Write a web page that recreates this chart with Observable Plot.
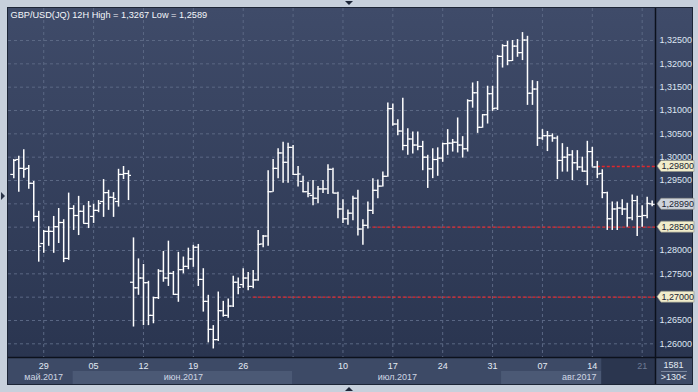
<!DOCTYPE html>
<html><head><meta charset="utf-8">
<script src="https://cdn.jsdelivr.net/npm/d3@7"></script>
<script src="https://cdn.jsdelivr.net/npm/@observablehq/plot@0.6"></script>
<style>
html,body{margin:0;padding:0;background:#c7d0dc;overflow:hidden;}
#chart{width:698px;height:392px;}
</style></head><body><div id="chart"></div>
<script>
const title = "GBP/USD(JQ) 12H High = 1,3267 Low = 1,2589";
const O = [1.2963,1.2995,1.2976,1.2976,1.2944,1.2873,1.2815,1.2841,1.2841,1.2851,1.2860,1.2783,1.2890,1.2875,1.2884,1.2858,1.2873,1.2886,1.2905,1.2924,1.2914,1.2905,1.2963,1.2965,
1.2732,1.2720,1.2741,1.2731,1.2661,1.2699,1.2756,1.2741,1.2751,1.2706,1.2759,1.2766,1.2782,1.2807,1.2738,1.2691,1.2631,1.2609,1.2671,1.2661,1.2681,1.2732,1.2727,1.2741,1.2723,1.2737,
1.2814,1.2831,1.2926,1.2976,1.3009,1.2989,1.3021,1.2963,1.2948,1.2926,1.2918,1.2912,1.2932,1.2932,1.2974,1.2923,1.2889,1.2868,1.2880,1.2912,1.2846,1.2854,1.2886,1.2929,1.2938,
1.2959,1.3104,1.3071,1.3056,1.3025,1.3039,1.3026,1.3023,1.3000,1.2975,1.2995,1.2998,1.3029,1.3030,1.3032,1.3026,1.3018,1.3121,1.3138,1.3064,1.3091,1.3136,
1.3105,1.3216,1.3239,1.3207,1.3238,1.3224,1.3251,1.3137,1.3146,1.3041,1.3046,1.3046,1.3041,1.2993,1.3000,1.3005,1.2988,1.2979,1.2970,1.3012,1.2979,
1.2965,1.2924,1.2868,1.2889,1.2891,1.2889,1.2870,1.2907,1.2873,1.2875,1.2900];
const H = [1.2995,1.3002,1.3016,1.2982,1.2948,1.2884,1.2843,1.2851,1.2873,1.2890,1.2866,1.2923,1.2896,1.2916,1.2896,1.2905,1.2899,1.2907,1.2952,1.2929,1.2924,1.2974,1.2980,1.2971,
1.2827,1.2782,1.2770,1.2734,1.2700,1.2759,1.2798,1.2820,1.2755,1.2796,1.2786,1.2805,1.2811,1.2813,1.2761,1.2704,1.2639,1.2711,1.2691,1.2696,1.2745,1.2741,1.2761,1.2753,1.2757,1.2843,
1.2832,1.2971,1.2995,1.3018,1.3032,1.3030,1.3025,1.2980,1.2959,1.2946,1.2950,1.2937,1.2950,1.2984,1.2976,1.2925,1.2909,1.2887,1.2916,1.2929,1.2866,1.2904,1.2954,1.2951,1.2968,
1.3116,1.3114,1.3080,1.3126,1.3061,1.3054,1.3054,1.3034,1.3004,1.3018,1.3020,1.3030,1.3059,1.3038,1.3084,1.3044,1.3123,1.3159,1.3162,1.3091,1.3152,1.3152,
1.3218,1.3241,1.3248,1.3250,1.3252,1.3267,1.3259,1.3164,1.3162,1.3059,1.3055,1.3050,1.3045,1.3029,1.3021,1.3014,1.3014,1.3000,1.3034,1.3021,1.2991,
1.2973,1.2925,1.2904,1.2904,1.2909,1.2901,1.2919,1.2916,1.2896,1.2914,1.2906];
const L = [1.2954,1.2925,1.2955,1.2931,1.2861,1.2775,1.2794,1.2809,1.2794,1.2815,1.2774,1.2779,1.2843,1.2832,1.2858,1.2847,1.2858,1.2881,1.2871,1.2886,1.2871,1.2893,1.2952,1.2907,
1.2636,1.2704,1.2639,1.2639,1.2643,1.2695,1.2732,1.2723,1.2704,1.2689,1.2750,1.2759,1.2764,1.2723,1.2668,1.2602,1.2589,1.2605,1.2657,1.2655,1.2678,1.2705,1.2719,1.2714,1.2718,1.2734,
1.2806,1.2809,1.2925,1.2954,1.2944,1.2944,1.2961,1.2936,1.2924,1.2913,1.2896,1.2900,1.2922,1.2920,1.2922,1.2868,1.2858,1.2854,1.2864,1.2831,1.2811,1.2846,1.2877,1.2911,1.2936,
1.2957,1.3066,1.3046,1.3014,1.3004,1.3007,1.3014,1.2971,1.2933,1.2954,1.2959,1.2989,1.3004,1.3011,1.3009,1.2998,1.3011,1.3105,1.3051,1.3062,1.3071,1.3098,
1.3100,1.3191,1.3196,1.3205,1.3214,1.3207,1.3111,1.3111,1.3023,1.3036,1.3012,1.3032,1.2952,1.2968,1.2968,1.2950,1.2971,1.2968,1.2939,1.2979,1.2954,
1.2911,1.2843,1.2843,1.2843,1.2875,1.2850,1.2864,1.2830,1.2850,1.2868,1.2894];
const C = [1.2993,1.2976,1.2974,1.2944,1.2873,1.2809,1.2841,1.2841,1.2851,1.2860,1.2783,1.2890,1.2875,1.2884,1.2858,1.2895,1.2886,1.2901,1.2924,1.2914,1.2911,1.2963,1.2965,1.2961,
1.2720,1.2741,1.2731,1.2661,1.2699,1.2756,1.2741,1.2751,1.2706,1.2759,1.2766,1.2782,1.2807,1.2738,1.2691,1.2631,1.2609,1.2671,1.2661,1.2681,1.2732,1.2721,1.2741,1.2723,1.2737,1.2813,
1.2831,1.2926,1.2976,1.3009,1.2989,1.3021,1.2963,1.2964,1.2926,1.2922,1.2912,1.2932,1.2932,1.2974,1.2923,1.2889,1.2868,1.2880,1.2912,1.2846,1.2854,1.2886,1.2929,1.2938,1.2959,
1.3104,1.3071,1.3056,1.3025,1.3039,1.3026,1.3023,1.3000,1.2975,1.2995,1.2998,1.3029,1.3030,1.3032,1.3026,1.3018,1.3121,1.3138,1.3064,1.3091,1.3136,1.3104,
1.3216,1.3239,1.3207,1.3238,1.3224,1.3251,1.3137,1.3146,1.3041,1.3046,1.3046,1.3041,1.2993,1.3000,1.3005,1.2988,1.2979,1.2970,1.3012,1.2979,1.2964,
1.2924,1.2868,1.2889,1.2891,1.2889,1.2870,1.2907,1.2873,1.2875,1.2901,1.2899];

const yTicks = [1.325,1.32,1.315,1.31,1.305,1.30,1.295,1.29,1.285,1.28,1.275,1.27,1.265,1.26];
const yTicksHidden = [1.29,1.285,1.27];
const dayTickIdx = [6,16,26,36,46,56,66,76,86,96,106,116,126];
const dayLabels = ["29","05","12","19","26","","10","17","24","31","07","14","21"];
const monthLabels = ["май.2017","июн.2017","июл.2017","авг.2017"];
const monthLabelIdx = [6,34,76.9,113.4];
const monthBandIdx = [[11.9,55.9],[97.8,117.9]];
const levels = [1.298,1.285,1.27];
const levelFrom = [117,72,48];
const tagPrices = [1.298,1.285,1.27];
const tagLabels = ["1,29800","1,28500","1,27000"];
const barCount = "1581";
const barsShown = ">130<";

const xDomain = [-1.063,128.67];
const yDomain = [1.25707,1.33186];
const bars = O.map((o,i)=>({i,o,h:H[i],l:L[i],c:C[i]}));
const lastClose = C[C.length-1];
const fmt5 = d => d.toFixed(5).replace(".",",");
const FONT = "Liberation Sans, Arial, sans-serif";

const plot = Plot.plot({
  width: 698, height: 392,
  marginLeft: 8, marginRight: 43, marginTop: 8, marginBottom: 35,
  x: {domain: xDomain},
  y: {domain: yDomain},
  style: {background: "transparent", fontFamily: FONT},
  marks: [
    Plot.ruleY(yTicks, {stroke: "#5b6884", strokeDasharray: "3,3", strokeWidth: 1}),
    Plot.ruleX(dayTickIdx, {stroke: "#5b6884", strokeDasharray: "3,3", strokeWidth: 1}),
    Plot.ruleY(levels.map((v,k)=>({v, from: levelFrom[k]})), {y: "v", x1: "from", x2: () => xDomain[1], stroke: "#e2262b", strokeDasharray: "3,2", strokeWidth: 1.4}),
    Plot.ruleX(bars, {x: "i", y1: "l", y2: "h", stroke: "#ffffff", strokeWidth: 1.5}),
    Plot.ruleY(bars, {y: "o", x1: d => d.i - 0.6, x2: "i", stroke: "#ffffff", strokeWidth: 1.2}),
    Plot.ruleY(bars, {y: "c", x1: "i", x2: d => d.i + 0.6, stroke: "#ffffff", strokeWidth: 1.2}),
    Plot.text([title], {frameAnchor: "top-left", dx: 2, dy: 3, lineAnchor: "top", fill: "#f4f6fa", fontSize: 9.2, fontFamily: FONT}),
    Plot.axisY(yTicks.filter(t => !yTicksHidden.includes(t)), {anchor: "right", tickSize: 0, tickPadding: 4, tickFormat: fmt5, fontSize: 9, fill: "#dfe6f2", fontFamily: FONT}),
    Plot.axisX(dayTickIdx.slice(0,-1), {anchor: "bottom", tickSize: 0, tickPadding: 5, tickFormat: d => dayLabels[dayTickIdx.indexOf(d)], fontSize: 9, fill: "#e4eaf4", fontFamily: FONT}),
    Plot.axisX(dayTickIdx.slice(-1), {anchor: "bottom", tickSize: 0, tickPadding: 5, tickFormat: d => dayLabels[dayTickIdx.indexOf(d)], fontSize: 9, fill: "#6e7b94", fontFamily: FONT}),
    Plot.axisX(monthLabelIdx, {anchor: "bottom", tickSize: 0, tickPadding: 16, tickFormat: d => monthLabels[monthLabelIdx.indexOf(d)], fontSize: 9, fill: "#cfd7e4", fontFamily: FONT})
  ]
});

const xs = plot.scale("x"), ys = plot.scale("y");
const svg = d3.select(plot);
const bg = svg.insert("g", ":first-child");
const defs = svg.insert("defs", ":first-child");
const grad = defs.append("linearGradient").attr("id","panelGrad").attr("x1",0).attr("y1",0).attr("x2",0).attr("y2",1);
grad.append("stop").attr("offset","0%").attr("stop-color","#3f4b69");
grad.append("stop").attr("offset","100%").attr("stop-color","#2a3550");
bg.append("rect").attr("x",7).attr("y",7).attr("width",686).attr("height",378).attr("fill","#1c2536");
bg.append("rect").attr("x",8).attr("y",8).attr("width",684).attr("height",349).attr("fill","url(#panelGrad)");
bg.append("rect").attr("x",8).attr("y",357).attr("width",684).attr("height",27).attr("fill","#3d4a66");
for (const [a,b] of monthBandIdx) {
  bg.append("rect").attr("x",xs.apply(a)).attr("y",371).attr("width",xs.apply(b)-xs.apply(a)).attr("height",13).attr("fill","#4b5975");
}
bg.append("rect").attr("x",xs.apply(117.9)).attr("y",358).attr("width",655-xs.apply(117.9)).attr("height",26).attr("fill","#2b364f");
bg.append("line").attr("x1",8).attr("x2",692).attr("y1",357.5).attr("y2",357.5).attr("stroke","#0c111c").attr("stroke-width",1.5);
bg.append("line").attr("x1",655.5).attr("x2",655.5).attr("y1",8).attr("y2",384).attr("stroke","#0c111c").attr("stroke-width",1.5);
const fg = svg.append("g").attr("font-family", FONT).attr("text-anchor","start");
const tag = (p, label, fill) => {
  const cy = ys.apply(p);
  fg.append("path").attr("d",`M657,${cy} L661,${cy-5.5} L694,${cy-5.5} L694,${cy+5.5} L661,${cy+5.5} Z`).attr("fill",fill).attr("stroke","#8d8f86").attr("stroke-width",0.6);
  fg.append("text").attr("x",661.5).attr("y",cy+3.3).attr("text-anchor","start").attr("font-size",9).attr("fill","#1b2334").text(label);
};
tagPrices.forEach((p,k)=>tag(p, tagLabels[k], "#f1edcb"));
tag(lastClose, fmt5(lastClose), "#cdd2da");
fg.append("text").attr("x",673.5).attr("y",368).attr("text-anchor","middle").attr("font-size",9).attr("fill","#e4eaf4").text(barCount);
fg.append("line").attr("x1",661).attr("x2",687).attr("y1",371.5).attr("y2",371.5).attr("stroke","#8a96ab").attr("stroke-width",0.8);
fg.append("text").attr("x",673.5).attr("y",380).attr("text-anchor","middle").attr("font-size",9).attr("fill","#e4eaf4").text(barsShown);
fg.append("path").attr("d","M345,1 L353,1 L349,5 Z").attr("fill","#1d2638");
fg.append("path").attr("d","M345,391 L353,391 L349,387 Z").attr("fill","#1d2638");
fg.append("path").attr("d","M1,192 L1,200 L5,196 Z").attr("fill","#2a3448");
document.getElementById("chart").appendChild(plot);
</script></body></html>
